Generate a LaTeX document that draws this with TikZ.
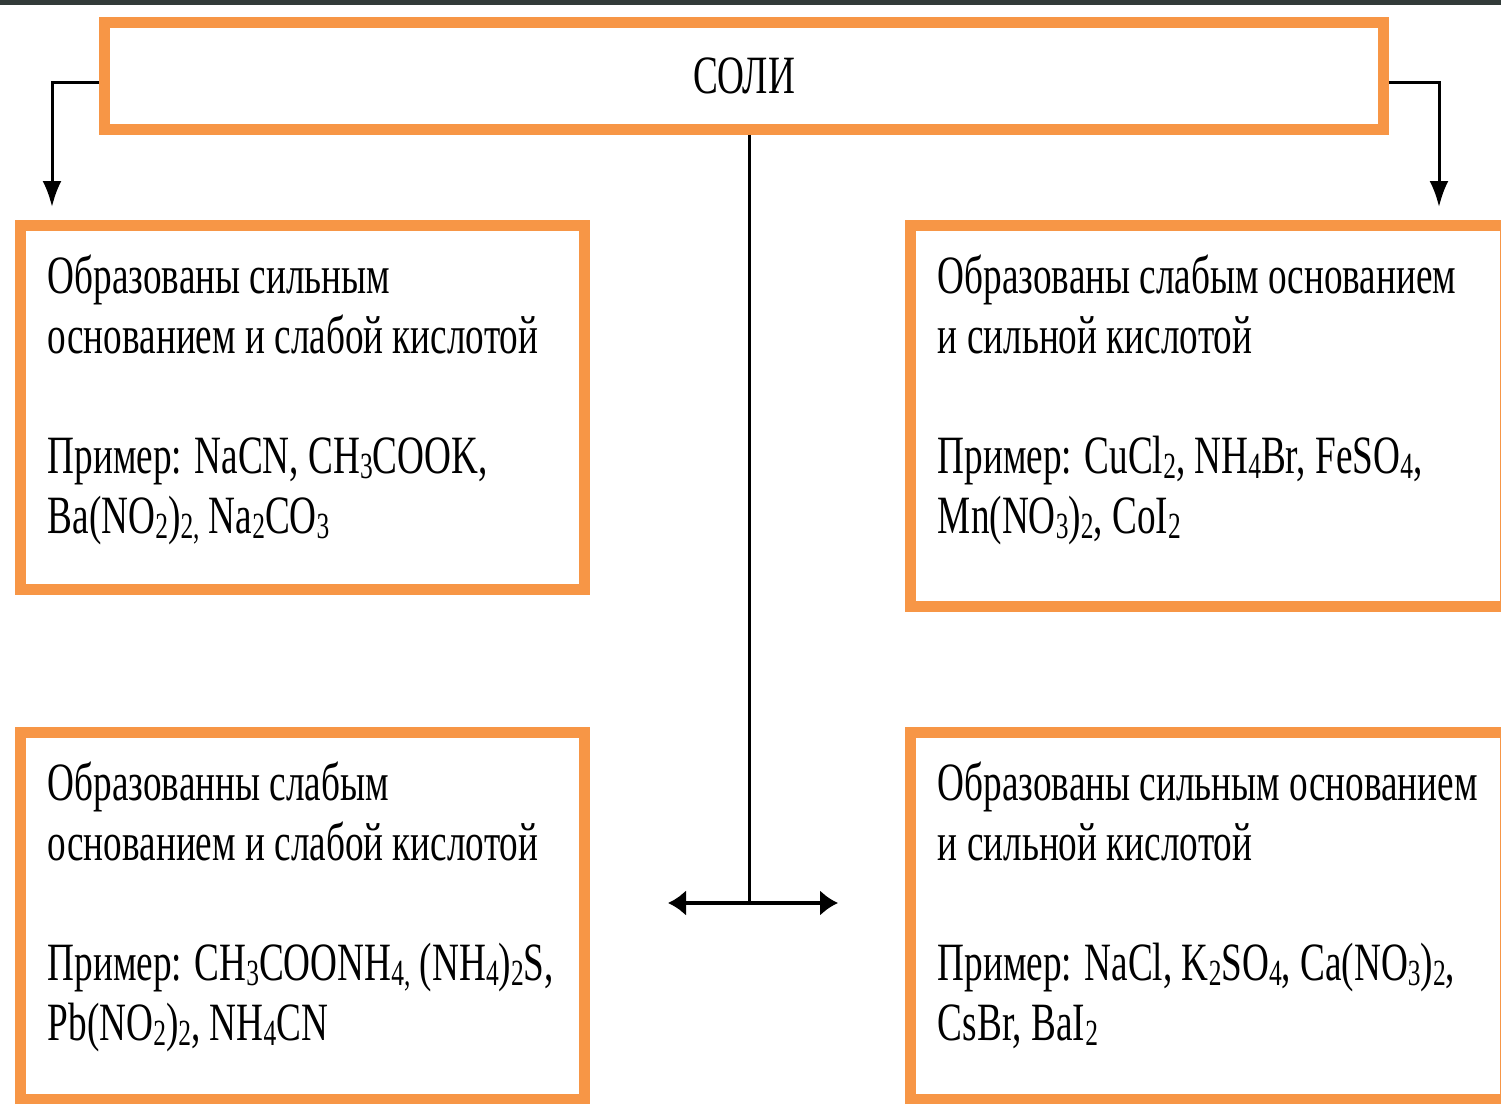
\documentclass[tikz,border=0pt]{standalone}
\usepackage{fontspec}
\setmainfont{Liberation Serif}[FakeStretch=0.69]
\usetikzlibrary{arrows.meta, calc, positioning}
\definecolor{boxorange}{HTML}{F79646}
\definecolor{topbar}{HTML}{323B39}
\newcommand{\lowidx}[1]{\raisebox{-0.1em}{\fontsize{21pt}{21pt}\selectfont #1}}

\begin{document}
\begin{tikzpicture}[x=0.02cm, y=-0.02cm,
    saltbox/.style={draw=boxorange, line width=0.22cm, inner sep=0pt},
    salttext/.style={inner sep=0pt, align=left, anchor=north west,
        font=\fontsize{30.7pt}{34.1pt}\selectfont},
    downlink/.style={line width=0.06cm, -{Latex[length=0.52cm, width=0.38cm]}},
    bothlink/.style={line width=0.08cm, {Latex[length=0.36cm, width=0.52cm]}-{Latex[length=0.36cm, width=0.52cm]}}]

    \useasboundingbox (0,0) rectangle (1501,1104);
    \fill[topbar] (0,0) rectangle (1501,5);

    % boxes
    \node[saltbox, minimum width=25.57cm, minimum height=2.13cm,
        font=\fontsize{30.7pt}{34.1pt}\selectfont] (soli) at (744,76) {СОЛИ};
    \node[saltbox, minimum width=11.3cm, minimum height=7.3cm] (strongweak) at (302.5,407.5) {};
    \node[saltbox, minimum width=11.92cm, minimum height=7.64cm] (weakstrong) at (1208,416) {};
    \node[saltbox, minimum width=11.3cm, minimum height=7.36cm] (weakweak) at (302.5,916) {};
    \node[saltbox, minimum width=11.92cm, minimum height=7.36cm] (strongstrong) at (1208,916) {};

    % texts
    \node[salttext, below right=0.7cm and 0.66cm of strongweak.north west] (strongweak-txt)
        {Образованы сильным\\ основанием и слабой кислотой\\[34.1pt]
         Пример: NaCN, CH\lowidx{3}COOK,\\
         Ba(NO\lowidx{2})\lowidx{2,} Na\lowidx{2}CO\lowidx{3}};
    \node[salttext, below right=0.7cm and 0.66cm of weakstrong.north west] (weakstrong-txt)
        {Образованы слабым основанием\\ и сильной кислотой\\[34.1pt]
         Пример: CuCl\lowidx{2}, NH\lowidx{4}Br, FeSO\lowidx{4},\\
         Mn(NO\lowidx{3})\lowidx{2}, CoI\lowidx{2}};
    \node[salttext, below right=0.7cm and 0.66cm of weakweak.north west] (weakweak-txt)
        {Образованны слабым\\ основанием и слабой кислотой\\[34.1pt]
         Пример: CH\lowidx{3}COONH\lowidx{4,} (NH\lowidx{4})\lowidx{2}S,\\
         Pb(NO\lowidx{2})\lowidx{2}, NH\lowidx{4}CN};
    \node[salttext, below right=0.7cm and 0.66cm of strongstrong.north west] (strongstrong-txt)
        {Образованы сильным основанием\\ и сильной кислотой\\[34.1pt]
         Пример: NaCl, K\lowidx{2}SO\lowidx{4}, Ca(NO\lowidx{3})\lowidx{2},\\
         CsBr, BaI\lowidx{2}};

    % connectors
    \coordinate (lturn) at (52,83);
    \coordinate (ltip) at (52,207);
    \coordinate (rturn) at (1439,83);
    \coordinate (rtip) at (1439,207);
    \coordinate (hub) at (749,903);
    \coordinate (hleft) at (668,903);
    \coordinate (hright) at (838,903);

    \draw[downlink] (soli.west |- lturn) -| (ltip);
    \draw[downlink] (soli.east |- rturn) -| (rtip);
    \draw[line width=0.06cm] (hub |- soli.south) -- (hub);
    \draw[bothlink] (hleft) -- (hright);
\end{tikzpicture}
\end{document}
